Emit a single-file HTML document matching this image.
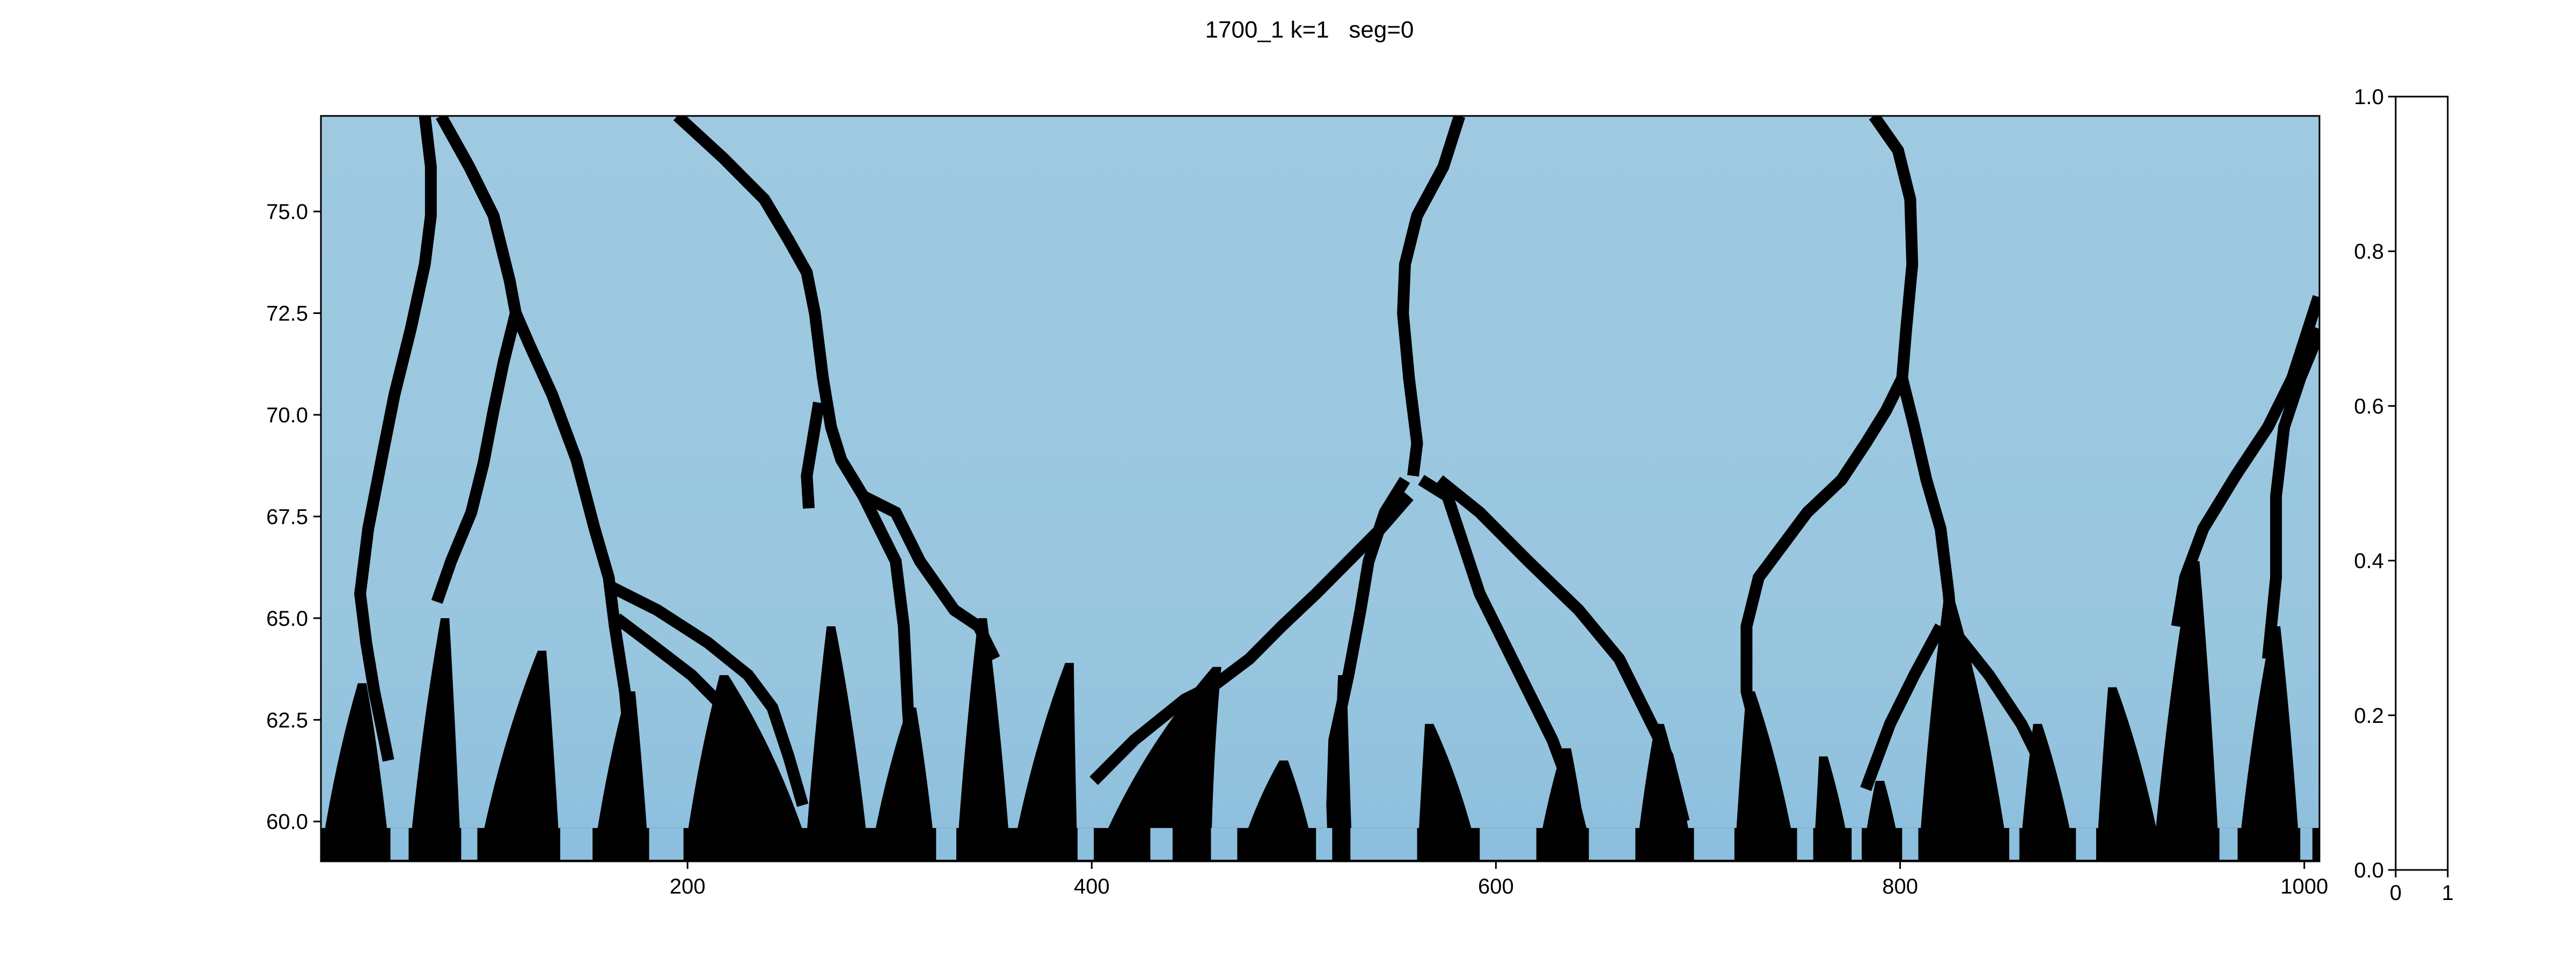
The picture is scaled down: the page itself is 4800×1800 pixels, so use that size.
<!DOCTYPE html>
<html><head><meta charset="utf-8"><style>
html,body{margin:0;padding:0;background:#fff;}
svg{display:block;font-family:"Liberation Sans",sans-serif;}
</style></head><body>
<svg id="chart" width="4800" height="1800" viewBox="0 0 4800 1800" xmlns="http://www.w3.org/2000/svg">
<defs>
<linearGradient id="bg" x1="0" y1="0" x2="0" y2="1">
<stop offset="0" stop-color="#9ec9e1"/><stop offset="0.7" stop-color="#99c6df"/><stop offset="1" stop-color="#8cbfdd"/>
</linearGradient>
<clipPath id="plotclip"><rect x="598" y="216" width="3724" height="1389"/></clipPath>
</defs>
<text x="2440" y="70" font-size="44" text-anchor="middle" xml:space="preserve">1700_1 k=1   seg=0</text>
<rect x="598" y="216" width="3724" height="1389" fill="url(#bg)"/>
<g id="marks" clip-path="url(#plotclip)"></g>
<rect x="598" y="216" width="3724" height="1389" fill="none" stroke="#000" stroke-width="3"/>
<g id="xaxis"></g>
<g id="yaxis"></g>
<g>
<rect x="4464" y="180" width="97" height="1441" fill="#fff" stroke="#000" stroke-width="3"/>
<g id="cbaxis"></g>
</g>
</svg>
<script>
const xTicks = [200, 400, 600, 800, 1000];
const yTicks = [60.0, 62.5, 65.0, 67.5, 70.0, 72.5, 75.0];
const cbTicks = [0.0, 0.2, 0.4, 0.6, 0.8, 1.0];
const cbXTicks = [0, 1];
const xDomain = [18.6, 1007.5];
const yDomain = [59.02, 77.35];
const curveX = [
 [70,73,73,70,63,55,49,42,38,41,45,52],
 [78,92,104,112,115,109,104,99,93,83,76],
 [115,122,133,145,154,161,164,169,172],
 [161,185,210,230,242,250,257],
 [165,181,202,218,230],
 [195,218,238,250,259,263,267,271,276,287,295,303,307,309,311,313],
 [265,259,260],
 [287,303,315,332,344,352],
 [557,543,527,511,494,478,462,446,421,401],
 [582,574,561,555,554,557,561,559],
 [555,545,537,533,527,520,519,520],
 [563,576,584,592,604,616,628,637,642],
 [572,592,616,641,661,673,685,693],
 [787,799,805,806,803,801,793,783,771,754,742,730,724,724,730,738,742],
 [801,807,813,820,824,826,828,829],
 [828,844,860,872,880],
 [820,807,795,783],
 [1007,994,982,966,950,941,937],
 [1008,998,990,986,986,982]
];
const curveY = [
 [77.35,76.1,74.9,73.7,72.1,70.5,69.0,67.2,65.6,64.4,63.2,61.5],
 [77.35,76.1,74.9,73.3,72.5,71.3,70.1,68.8,67.6,66.4,65.4],
 [72.5,71.7,70.5,68.9,67.2,66.0,64.8,63.2,61.6],
 [65.8,65.2,64.4,63.6,62.8,61.6,60.4],
 [65.0,64.4,63.6,62.8,62.0],
 [77.35,76.3,75.3,74.3,73.5,72.5,70.9,69.7,68.9,68.0,67.2,66.4,64.8,62.8,61.2,60.0],
 [70.3,68.5,67.7],
 [68.0,67.6,66.4,65.2,64.8,64.0],
 [68.0,67.2,66.4,65.6,64.8,64.0,63.4,63.0,62.0,61.0],
 [77.35,76.1,74.9,73.7,72.5,70.9,69.3,68.5],
 [68.4,67.6,66.4,65.2,63.6,62.0,60.4,59.0],
 [68.4,68.0,66.8,65.6,64.4,63.2,62.0,60.8,59.8],
 [68.4,67.6,66.4,65.2,64.0,62.8,61.6,60.0],
 [77.35,76.5,75.3,73.7,72.1,70.9,70.1,69.3,68.4,67.6,66.8,66.0,64.8,63.2,62.0,60.8,59.0],
 [70.9,69.7,68.4,67.2,65.6,64.4,62.0,59.0],
 [64.6,63.6,62.4,61.2,60.0],
 [64.8,63.6,62.4,60.8],
 [72.9,70.9,69.7,68.5,67.2,66.0,64.8],
 [72.1,70.9,69.7,68.0,66.0,64.0]
];
const wedgeApexX = [39,80,128,172,218,271,311,346,389,462,495,524,567,635,681,726,762,790,824,868,905,946,986];
const wedgeApexY = [63.4,65.0,64.2,63.2,63.6,64.8,62.8,65.0,63.9,63.8,61.5,63.6,62.4,61.8,62.4,63.2,61.6,61.0,65.6,62.4,63.3,66.4,64.8];
const wedgeLeft  = [18,62,96,153,198,258,290,333,360,401,472,518,561,620,669,718,757,781,809,859,897,925,967];
const wedgeRight = [53,88,137,181,262,290,323,360,393,459,511,529,592,646,698,749,776,801,854,887,930,958,998];
const bandTop = 59.84;
const gapStart = [53,88,137,181,323,393,429,459,511,528,592,646,698,749,776,801,854,887,958,998];
const gapEnd   = [62,96,153,198,333,401,440,472,519,561,620,669,718,757,781,809,859,897,967,1004];

const NS = "http://www.w3.org/2000/svg";
const PL = 598, PR = 4322, PT = 216, PB = 1605;
function sx(v){ return PL + (v - xDomain[0]) / (xDomain[1] - xDomain[0]) * (PR - PL); }
function sy(v){ return PB - (v - yDomain[0]) / (yDomain[1] - yDomain[0]) * (PB - PT); }
function mk(tag, attrs){ const e = document.createElementNS(NS, tag); for (const k in attrs) e.setAttribute(k, attrs[k]); return e; }
const marks = document.getElementById('marks');

for (let i = 0; i < wedgeApexX.length; i++) {
  const ax = sx(wedgeApexX[i]), ay = sy(wedgeApexY[i]), l = sx(wedgeLeft[i]), r = sx(wedgeRight[i]);
  const d = `M${l},${PB} Q${l + (ax - l) * 0.35},${ay + (PB - ay) * 0.45} ${ax - 8},${ay} L${ax + 8},${ay} Q${r - (r - ax) * 0.35},${ay + (PB - ay) * 0.45} ${r},${PB} Z`;
  const p = mk('path', {d: d, fill: '#000'});
  
  
  marks.appendChild(p);
}
for (let i = 0; i < curveX.length; i++) {
  let d = '';
  for (let j = 0; j < curveX[i].length; j++) d += (j ? 'L' : 'M') + sx(curveX[i][j]) + ',' + sy(curveY[i][j]);
  const p = mk('path', {d: d, fill: 'none', stroke: '#000', 'stroke-width': 22, 'stroke-linejoin': 'miter'});
  
  
  marks.appendChild(p);
}
const band = mk('rect', {x: PL, y: sy(bandTop), width: PR - PL, height: PB - sy(bandTop), fill: '#000'});


marks.appendChild(band);
for (let i = 0; i < gapStart.length; i++) {
  const r = mk('rect', {x: sx(gapStart[i]), y: sy(bandTop), width: sx(gapEnd[i]) - sx(gapStart[i]), height: PB - sy(bandTop) - 3, fill: '#8cbfdd'});
  
  
  marks.appendChild(r);
}
const xa = document.getElementById('xaxis');
xTicks.forEach(t => {
  const x = sx(t);
  const l = mk('line', {x1: x, y1: PB, x2: x, y2: PB + 14, stroke: '#000', 'stroke-width': 3});
  
  
  xa.appendChild(l);
  const tx = mk('text', {x: x, y: PB + 60, 'font-size': 40, 'text-anchor': 'middle'});
  
  
  tx.textContent = t;
  xa.appendChild(tx);
});
const ya = document.getElementById('yaxis');
yTicks.forEach(t => {
  const y = sy(t);
  const l = mk('line', {x1: PL - 14, y1: y, x2: PL, y2: y, stroke: '#000', 'stroke-width': 3});
  
  
  ya.appendChild(l);
  const tx = mk('text', {x: PL - 24, y: y + 14, 'font-size': 40, 'text-anchor': 'end'});
  
  
  tx.textContent = t.toFixed(1);
  ya.appendChild(tx);
});
const ca = document.getElementById('cbaxis');
const CT = 180, CB = 1621, CL = 4464, CR = 4561;
cbTicks.forEach(t => {
  const y = CB - t * (CB - CT);
  const l = mk('line', {x1: CL - 14, y1: y, x2: CL, y2: y, stroke: '#000', 'stroke-width': 3});
  
  
  ca.appendChild(l);
  const tx = mk('text', {x: CL - 22, y: y + 14, 'font-size': 40, 'text-anchor': 'end'});
  
  
  tx.textContent = t.toFixed(1);
  ca.appendChild(tx);
});
cbXTicks.forEach(t => {
  const x = CL + t * (CR - CL);
  const l = mk('line', {x1: x, y1: CB, x2: x, y2: CB + 14, stroke: '#000', 'stroke-width': 3});
  
  
  ca.appendChild(l);
  const tx = mk('text', {x: x, y: CB + 56, 'font-size': 40, 'text-anchor': 'middle'});
  
  
  tx.textContent = t;
  ca.appendChild(tx);
});
</script>
</body></html>
